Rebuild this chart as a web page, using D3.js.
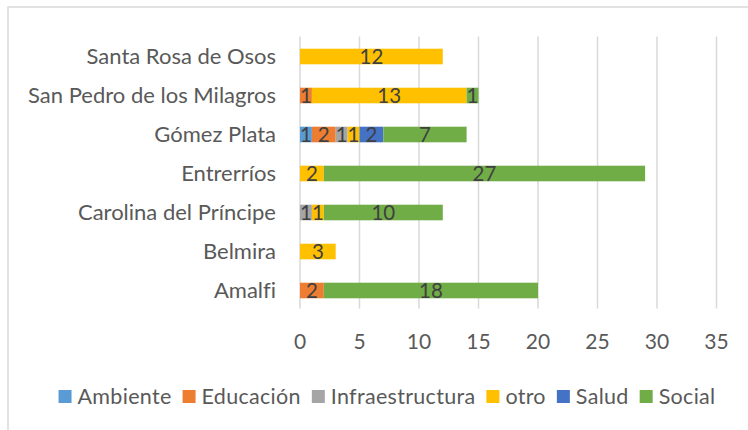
<!DOCTYPE html>
<html>
<head>
<meta charset="utf-8">
<script src="https://cdn.jsdelivr.net/npm/d3@7"></script>
<style>
  body { margin: 0; background: #fff; }
  text { font-family: Lato, "Open Sans", sans-serif; font-variant-ligatures: none; }
</style>
</head>
<body>
<div id="chart"></div>
<script>
var width = 748, height = 430;

// data (top row first)
var municipios = ["Santa Rosa de Osos", "San Pedro de los Milagros", "Gómez Plata",
                  "Entrerríos", "Carolina del Príncipe", "Belmira", "Amalfi"];
var sectores = ["Ambiente", "Educación", "Infraestructura", "otro", "Salud", "Social"];
var ambiente        = [0, 0, 1, 0, 0, 0, 0];
var educacion       = [0, 1, 2, 0, 0, 0, 2];
var infraestructura = [0, 0, 1, 0, 1, 0, 0];
var otro            = [12, 13, 1, 2, 1, 3, 0];
var salud           = [0, 0, 2, 0, 0, 0, 0];
var social          = [0, 1, 7, 27, 10, 0, 18];
var xTicks = [0, 5, 10, 15, 20, 25, 30, 35];

var colores = ["#5B9BD5", "#ED7D31", "#A5A5A5", "#FFC000", "#4472C4", "#70AD47"];

var rows = municipios.map(function (m, i) {
    return {
        municipio: m,
        "Ambiente": ambiente[i],
        "Educación": educacion[i],
        "Infraestructura": infraestructura[i],
        "otro": otro[i],
        "Salud": salud[i],
        "Social": social[i]
    };
});

var svg = d3.select("#chart").append("svg")
    .attr("width", width)
    .attr("height", height);

// chart area border (runs off the right/bottom edge)
svg.append("rect")
    .attr("x", 8).attr("y", 7)
    .attr("width", 800).attr("height", 500)
    .attr("fill", "none")
    .attr("stroke", "#d9d9d9")
    .attr("stroke-width", 1.5);

var x = d3.scaleLinear().domain([0, 35]).range([300, 716.5]);
var y = d3.scaleBand().domain(municipios).range([37, 310])
    .paddingInner(0.6).paddingOuter(0.3);
var color = d3.scaleOrdinal().domain(sectores).range(colores);

// gridlines
svg.append("g").selectAll("line")
    .data(xTicks)
    .enter().append("line")
    .attr("x1", function (d) { return x(d); })
    .attr("x2", function (d) { return x(d); })
    .attr("y1", 36.5).attr("y2", 308.5)
    .attr("stroke", "#d9d9d9")
    .attr("stroke-width", 1.5);

// tick labels
svg.append("g").selectAll("text")
    .data(xTicks)
    .enter().append("text")
    .attr("x", function (d) { return x(d); })
    .attr("y", 349)
    .attr("text-anchor", "middle")
    .style("font-size", "21px")
    .style("fill", "#595959")
    .text(function (d) { return d; });

// category labels
svg.append("g").selectAll("text")
    .data(municipios)
    .enter().append("text")
    .attr("x", 276)
    .attr("y", function (d) { return y(d) + y.bandwidth() / 2; })
    .attr("dy", "0.36em")
    .attr("text-anchor", "end")
    .style("font-size", "22px")
    .style("fill", "#595959")
    .text(function (d) { return d; });

var stacked = d3.stack().keys(sectores)(rows);

var layers = svg.append("g").selectAll("g")
    .data(stacked)
    .enter().append("g")
    .attr("fill", function (d) { return color(d.key); });

layers.selectAll("rect")
    .data(function (d) { return d.filter(function (p) { return p[1] > p[0]; }); })
    .enter().append("rect")
    .attr("x", function (d) { return x(d[0]); })
    .attr("y", function (d) { return y(d.data.municipio); })
    .attr("width", function (d) { return x(d[1]) - x(d[0]); })
    .attr("height", y.bandwidth());

// data labels in the middle of each segment
layers.selectAll("text")
    .data(function (d) { return d.filter(function (p) { return p[1] > p[0]; }); })
    .enter().append("text")
    .attr("x", function (d) { return x((d[0] + d[1]) / 2); })
    .attr("y", function (d) { return y(d.data.municipio) + y.bandwidth() / 2; })
    .attr("dy", "0.38em")
    .attr("text-anchor", "middle")
    .style("font-size", "20.5px")
    .style("fill", "#404040")
    .text(function (d) { return d[1] - d[0]; });

// legend, laid out from measured text widths and centred
var legend = svg.append("g");
var items = legend.selectAll("g")
    .data(sectores)
    .enter().append("g");
items.append("rect")
    .attr("width", 13).attr("height", 13)
    .attr("y", 390)
    .attr("fill", function (d) { return color(d); });
items.append("text")
    .attr("x", 19)
    .attr("y", 403.5)
    .style("font-size", "21.5px")
    .style("letter-spacing", "0.3px")
    .style("fill", "#595959")
    .text(function (d) { return d; });

var pos = 0;
items.each(function () {
    var w = d3.select(this).select("text").node().getComputedTextLength();
    d3.select(this).attr("transform", "translate(" + pos + ",0)");
    pos += 19 + w + 11;
});
var total = pos - 11;
legend.attr("transform", "translate(" + (387 - total / 2) + ",0)");
</script>
</body>
</html>
